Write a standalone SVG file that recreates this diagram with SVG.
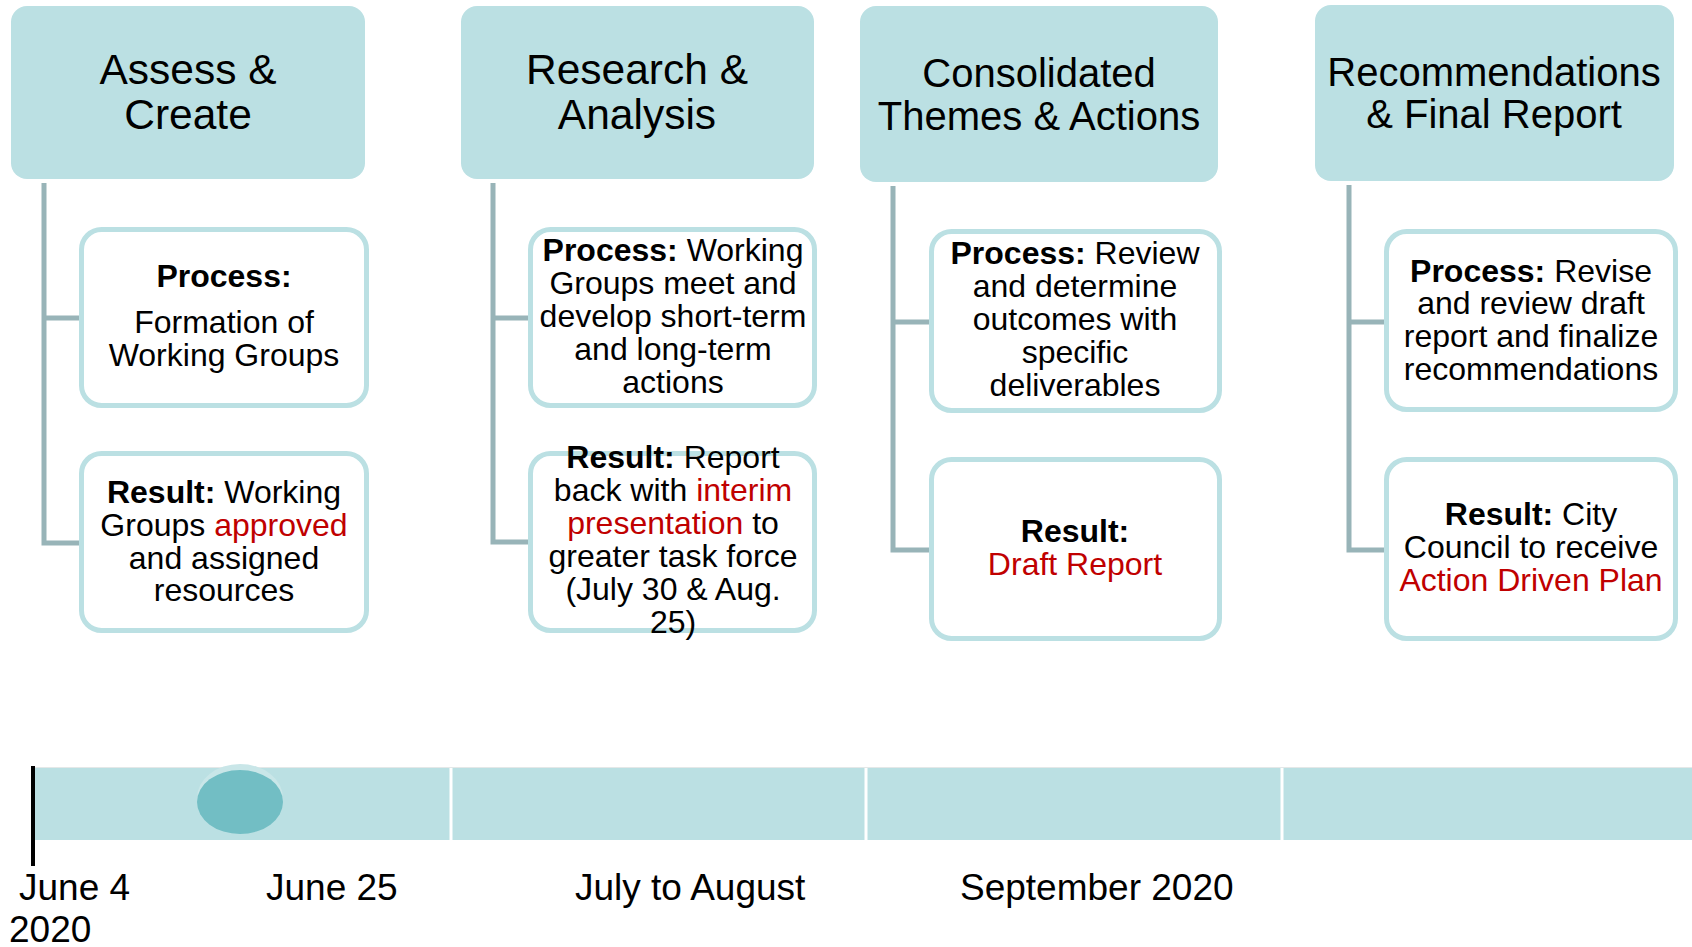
<svg xmlns="http://www.w3.org/2000/svg" width="1692" height="947" viewBox="0 0 1692 947">
<style>
.hdr{fill:#BBE0E3}
.box{fill:#FFFFFF;stroke:#BBE0E3;stroke-width:5}
.ht{font-family:"Liberation Sans",Arial,sans-serif;font-size:40px;fill:#000;text-anchor:middle}
.hl{font-size:42.5px}
.bt{font-family:"Liberation Sans",Arial,sans-serif;font-size:32px;fill:#000;text-anchor:middle}
.b{font-weight:bold}
.r{fill:#C00000}
.conn{fill:none;stroke:#98B4B8;stroke-width:5}
.tl{font-family:"Liberation Sans",Arial,sans-serif;font-size:37px;fill:#000}
</style>
<rect width="1692" height="947" fill="#FFFFFF"/>
<g id="connectors">
<path class="conn" d="M44,183 V543 H79 M44,318 H79"/>
<path class="conn" d="M493,183 V542 H528 M493,318 H528"/>
<path class="conn" d="M893,186 V550 H929 M893,322 H929"/>
<path class="conn" d="M1349,185 V550 H1384 M1349,322 H1384"/>
</g>
<g id="h1"><rect class="hdr" x="11" y="6" width="354" height="173" rx="16"/>
<text class="ht hl" x="188" y="84">Assess &amp;</text><text class="ht hl" x="188" y="129">Create</text></g>
<g id="h2"><rect class="hdr" x="461" y="6" width="353" height="173" rx="16"/>
<text class="ht hl" x="637" y="84">Research &amp;</text><text class="ht hl" x="637" y="129">Analysis</text></g>
<g id="h3"><rect class="hdr" x="860" y="6" width="358" height="176" rx="16"/>
<text class="ht" x="1039" y="87">Consolidated</text><text class="ht" x="1039" y="130">Themes &amp; Actions</text></g>
<g id="h4"><rect class="hdr" x="1315" y="5" width="359" height="176" rx="16"/>
<text class="ht" x="1494" y="86">Recommendations</text><text class="ht" x="1494" y="128">&amp; Final Report</text></g>

<g id="p1"><rect class="box" x="81.5" y="229.5" width="285" height="176" rx="20"/>
<text class="bt" x="224" y="287"><tspan class="b">Process:</tspan></text>
<text class="bt" x="224" y="333">Formation of</text>
<text class="bt" x="224" y="366">Working Groups</text></g>
<g id="r1"><rect class="box" x="81.5" y="453.5" width="285" height="177" rx="20"/>
<text class="bt" x="224" y="503"><tspan class="b">Result:</tspan> Working</text>
<text class="bt" x="224" y="536">Groups <tspan class="r">approved</tspan></text>
<text class="bt" x="224" y="569">and assigned</text>
<text class="bt" x="224" y="601">resources</text></g>

<g id="p2"><rect class="box" x="530.5" y="229.5" width="284" height="176" rx="20"/>
<text class="bt" x="673" y="261"><tspan class="b">Process:</tspan> Working</text>
<text class="bt" x="673" y="294">Groups meet and</text>
<text class="bt" x="673" y="327">develop short-term</text>
<text class="bt" x="673" y="360">and long-term</text>
<text class="bt" x="673" y="393">actions</text></g>
<g id="r2"><rect class="box" x="530.5" y="453.5" width="284" height="177" rx="20"/>
<text class="bt" x="673" y="468"><tspan class="b">Result:</tspan> Report</text>
<text class="bt" x="673" y="501">back with <tspan class="r">interim</tspan></text>
<text class="bt" x="673" y="534"><tspan class="r">presentation</tspan> to</text>
<text class="bt" x="673" y="567">greater task force</text>
<text class="bt" x="673" y="600">(July 30 &amp; Aug.</text>
<text class="bt" x="673" y="633">25)</text></g>

<g id="p3"><rect class="box" x="931.5" y="231.5" width="288" height="179" rx="20"/>
<text class="bt" x="1075" y="264"><tspan class="b">Process:</tspan> Review</text>
<text class="bt" x="1075" y="297">and determine</text>
<text class="bt" x="1075" y="330">outcomes with</text>
<text class="bt" x="1075" y="363">specific</text>
<text class="bt" x="1075" y="396">deliverables</text></g>
<g id="r3"><rect class="box" x="931.5" y="459.5" width="288" height="179" rx="20"/>
<text class="bt" x="1075" y="542"><tspan class="b">Result:</tspan></text>
<text class="bt" x="1075" y="575"><tspan class="r">Draft Report</tspan></text></g>

<g id="p4"><rect class="box" x="1386.5" y="231.5" width="289" height="178" rx="20"/>
<text class="bt" x="1531" y="282"><tspan class="b">Process:</tspan> Revise</text>
<text class="bt" x="1531" y="314">and review draft</text>
<text class="bt" x="1531" y="347">report and finalize</text>
<text class="bt" x="1531" y="380">recommendations</text></g>
<g id="r4"><rect class="box" x="1386.5" y="459.5" width="289" height="179" rx="20"/>
<text class="bt" x="1531" y="525"><tspan class="b">Result:</tspan> City</text>
<text class="bt" x="1531" y="558">Council to receive</text>
<text class="bt" x="1531" y="591"><tspan class="r">Action Driven Plan</tspan></text></g>

<g id="timeline">
<rect x="33" y="767" width="1659" height="1.5" fill="#E4E8E8"/>
<rect x="33" y="768" width="1659" height="72" fill="#BBE0E3"/>
<rect x="449.5" y="768" width="3" height="72" fill="#FFFFFF"/>
<rect x="864.5" y="768" width="3" height="72" fill="#FFFFFF"/>
<rect x="1280.5" y="768" width="3" height="72" fill="#FFFFFF"/>
<ellipse cx="240" cy="798" rx="43" ry="34" fill="#C9E6E8"/>
<ellipse cx="240" cy="802" rx="43" ry="32" fill="#72BEC4"/>
<rect x="31" y="766" width="4" height="100" fill="#000000"/>
<text class="tl" x="19" y="900">June 4</text>
<text class="tl" x="9" y="942">2020</text>
<text class="tl" x="266" y="900">June 25</text>
<text class="tl" x="575" y="900">July to August</text>
<text class="tl" x="960" y="900">September 2020</text>
</g>
</svg>
